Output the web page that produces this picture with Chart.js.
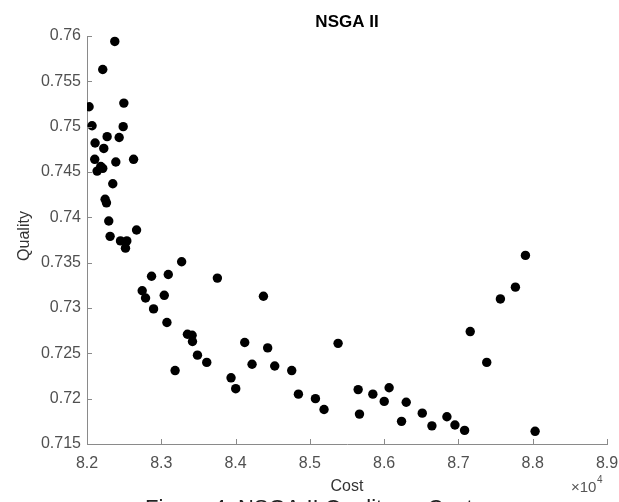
<!DOCTYPE html>
<html>
<head>
<meta charset="utf-8">
<script src="https://cdn.jsdelivr.net/npm/chart.js@4"></script>
<style>
  html, body { margin: 0; padding: 0; background: #ffffff; }
  #wrap { width: 619px; height: 502px; }
</style>
</head>
<body>
<div id="wrap"><canvas id="scatter" width="619" height="502"></canvas></div>
<script>
// ================== DATA ==================
// cost is in units of 10^4 (axis shows "x10^4")
const cost = [
  8.2374, 8.2212, 8.2028, 8.2496, 8.2068, 8.2487, 8.2271, 8.2433, 8.2109, 8.2226,
  8.2104, 8.2388, 8.2627, 8.2136, 8.2185, 8.2212, 8.2347, 8.2244, 8.2262, 8.2293,
  8.2311, 8.2451, 8.2536, 8.2667, 8.2518, 8.3274, 8.2869, 8.3094, 8.3755, 8.2743,
  8.2788, 8.3040, 8.2896, 8.4375, 8.3076, 8.3352, 8.3415, 8.3420, 8.4123, 8.4432,
  8.3487, 8.3612, 8.4222, 8.4527, 8.4756, 8.3186, 8.3939, 8.4002, 8.4846, 8.7902,
  8.7767, 8.7565, 8.7159, 8.5380, 8.7381, 8.5650, 8.5848, 8.6067, 8.5075, 8.5191,
  8.6001, 8.6297, 8.5668, 8.6513, 8.6234, 8.6643, 8.6845, 8.6953, 8.7083, 8.8032
];
const quality = [
  0.7594, 0.7563, 0.7522, 0.7526, 0.7501, 0.7500, 0.7489, 0.7488, 0.7482, 0.7476,
  0.7464, 0.7461, 0.7464, 0.7451, 0.7456, 0.7454, 0.7437, 0.7420, 0.7416, 0.7396,
  0.7379, 0.7374, 0.7374, 0.7386, 0.7366, 0.7351, 0.7335, 0.7337, 0.7333, 0.7319,
  0.7311, 0.7314, 0.7299, 0.7313, 0.7284, 0.7271, 0.7270, 0.7263, 0.7262, 0.7256,
  0.7248, 0.7240, 0.7238, 0.7236, 0.7231, 0.7231, 0.7223, 0.7211, 0.7205, 0.7358,
  0.7323, 0.7310, 0.7274, 0.7261, 0.7240, 0.7210, 0.7205, 0.7212, 0.7200, 0.7188,
  0.7197, 0.7196, 0.7183, 0.7184, 0.7175, 0.7170, 0.7180, 0.7171, 0.7165, 0.7164
];
const xTicks = [8.2, 8.3, 8.4, 8.5, 8.6, 8.7, 8.8, 8.9];
const yTicks = [0.715, 0.72, 0.725, 0.73, 0.735, 0.74, 0.745, 0.75, 0.755, 0.76];

const points = cost.map((c, i) => ({ x: c, y: quality[i] }));

// ================== STYLE ==================
const AXIS = '#8a8a8a';
const TICK_TEXT = '#505050';
const FONT = 'Arial, "Liberation Sans", Helvetica, sans-serif';

// ticks inside the box (matlab style) + titles / caption
const matlabDecor = {
  id: 'matlabDecor',
  afterDraw(chart) {
    const ctx = chart.ctx;
    const x = chart.scales.x;
    const y = chart.scales.y;
    const a = chart.chartArea;
    ctx.save();
    ctx.strokeStyle = AXIS;
    ctx.lineWidth = 1;
    ctx.beginPath();
    xTicks.forEach(v => {
      const px = Math.round(x.getPixelForValue(v)) + 0.5;
      ctx.moveTo(px, a.bottom);
      ctx.lineTo(px, a.bottom - 5);
    });
    yTicks.forEach(v => {
      const py = Math.round(y.getPixelForValue(v)) + 0.5;
      ctx.moveTo(a.left, py);
      ctx.lineTo(a.left + 5, py);
    });
    ctx.stroke();

    const cx = (a.left + a.right) / 2;
    // title
    ctx.fillStyle = '#000000';
    ctx.font = 'bold 17px ' + FONT;
    ctx.textAlign = 'center';
    ctx.textBaseline = 'middle';
    ctx.fillText('NSGA II', cx, 22);

    // axis titles
    ctx.fillStyle = '#333333';
    ctx.font = '16px ' + FONT;
    ctx.fillText('Cost', cx, 487);
    ctx.save();
    ctx.translate(25, 236);
    ctx.rotate(-Math.PI / 2);
    ctx.fillText('Quality', 0, 0);
    ctx.restore();

    // exponent label
    ctx.fillStyle = '#555555';
    ctx.textAlign = 'left';
    ctx.font = '15px ' + FONT;
    ctx.fillText('\u00d710', 571, 488);
    ctx.font = '10px ' + FONT;
    ctx.fillText('4', 597, 480);

    // caption (cut off by the bottom edge)
    ctx.fillStyle = '#222222';
    ctx.font = '22px ' + FONT;
    ctx.textBaseline = 'alphabetic';
    ctx.fillText('Figure 4: NSGA II Quality vs Cost', 145, 515);
    ctx.restore();
  }
};

new Chart(document.getElementById('scatter').getContext('2d'), {
  type: 'scatter',
  data: {
    datasets: [{
      label: 'NSGA II',
      data: points,
      pointRadius: 4.7,
      pointHoverRadius: 4.7,
      pointBackgroundColor: '#000000',
      pointBorderColor: '#000000',
      pointBorderWidth: 0
    }]
  },
  options: {
    responsive: false,
    animation: false,
    devicePixelRatio: 1,
    layout: {
      autoPadding: false,
      padding: { top: 36, right: 12, bottom: 0, left: 0 }
    },
    plugins: {
      legend: { display: false },
      tooltip: { enabled: false },
      title: { display: false }
    },
    scales: {
      x: {
        type: 'linear',
        min: 8.2,
        max: 8.9,
        afterFit(s) {
          s.height = 58;
          s.paddingLeft = 0;
          s.paddingRight = 0;
        },
        afterBuildTicks(s) { s.ticks = xTicks.map(v => ({ value: v })); },
        grid: { display: false, drawTicks: false },
        border: { display: true, color: AXIS, width: 1 },
        ticks: {
          padding: 10,
          color: TICK_TEXT,
          font: { size: 16, family: FONT },
          callback: v => String(parseFloat(v.toFixed(1)))
        }
      },
      y: {
        type: 'linear',
        min: 0.715,
        max: 0.76,
        afterFit(s) {
          s.width = 87;
          s.paddingTop = 0;
          s.paddingBottom = 0;
        },
        afterBuildTicks(s) { s.ticks = yTicks.map(v => ({ value: v })); },
        grid: { display: false, drawTicks: false },
        border: { display: true, color: AXIS, width: 1 },
        ticks: {
          padding: 6,
          color: TICK_TEXT,
          font: { size: 16, family: FONT },
          callback: v => String(parseFloat(v.toFixed(3)))
        }
      }
    }
  },
  plugins: [matlabDecor]
});
</script>
</body>
</html>
